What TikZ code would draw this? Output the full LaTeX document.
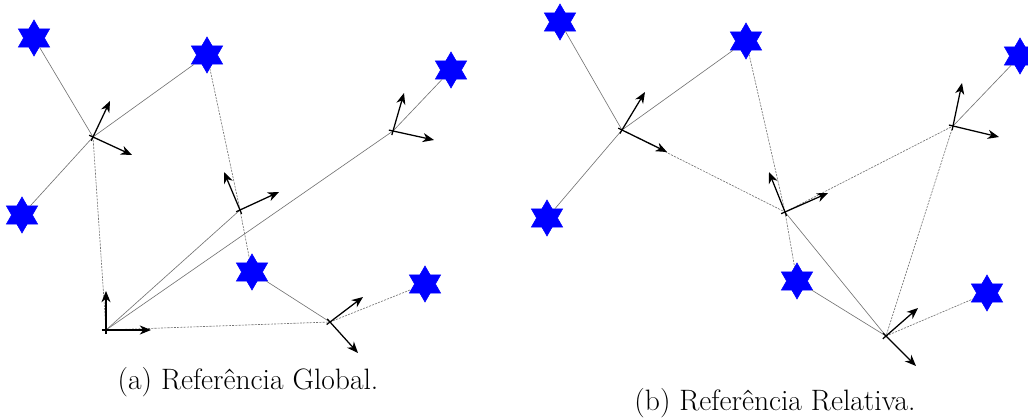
\documentclass[tikz,border=0pt]{standalone}
\usepackage{tikz}
\usetikzlibrary{shapes.geometric, arrows.meta}

\begin{document}
\begin{tikzpicture}[x=0.025cm, y=-0.025cm,
  landmark/.style={star, star points=6, star point ratio=1.73, fill=blue, draw=blue, inner sep=0pt, minimum size=0.9cm},
  link/.style={black!55, line width=0.45pt},
  dlink/.style={black!55, line width=0.45pt, dash pattern=on 1.5pt off 0.8pt},
  axis/.style={-{Stealth[length=8pt, width=6.5pt, inset=2.5pt]}, line width=0.9pt, shorten <=-3pt}
]
  \useasboundingbox (0,0) rectangle (1028,420);

  % (a) global frame
  \node[landmark] (s1) at (34,38) {};
  \node[landmark] (s2) at (207,55) {};
  \node[landmark] (s3) at (451,70) {};
  \node[landmark] (s4) at (22,215) {};
  \node[landmark] (s5) at (252,272) {};
  \node[landmark] (s6) at (425,284) {};

  \coordinate (p1) at (93,137);
  \coordinate (p2) at (240,210);
  \coordinate (p3) at (393,131);
  \coordinate (p4) at (106,330);
  \coordinate (p5) at (330,322);

  \draw[link] (s1) -- (p1);
  \draw[link] (s2) -- (p1);
  \draw[link] (s4) -- (p1);
  \draw[dlink] (p1) -- (p4);
  \draw[dlink] (s2) -- (p2);
  \draw[dlink] (p2) -- (s5);
  \draw[link] (p4) -- (p2);
  \draw[link] (p4) -- (p3);
  \draw[link] (p3) -- (s3);
  \draw[dlink] (p4) -- (p5);
  \draw[link] (p5) -- (s5);
  \draw[dlink] (p5) -- (s6);

  \coordinate (p1x) at (132,155); \coordinate (p1y) at (110,101);
  \coordinate (p2x) at (279,192); \coordinate (p2y) at (224,172);
  \coordinate (p3x) at (434,140); \coordinate (p3y) at (404,93);
  \coordinate (p4x) at (151,330); \coordinate (p4y) at (106,291);
  \coordinate (p5x) at (363,297); \coordinate (p5y) at (358,353);
  \foreach \p in {p1,p2,p3,p4,p5} {
    \draw[axis] (\p) -- (\p x);
    \draw[axis] (\p) -- (\p y);
  }

  \node[font=\fontsize{21}{25}\selectfont] (capa) at (248,382) {(a) Referência Global.};

  % (b) relative frame
  \node[landmark] (t1) at (560,22) {};
  \node[landmark] (t2) at (746,41) {};
  \node[landmark] (t3) at (1020,56) {};
  \node[landmark] (t4) at (547,218) {};
  \node[landmark] (t5) at (797,281) {};
  \node[landmark] (t6) at (987,293) {};

  \coordinate (q1) at (622,130);
  \coordinate (q2) at (785,212);
  \coordinate (q3) at (953,126);
  \coordinate (q4) at (886,336);

  \draw[link] (t1) -- (q1);
  \draw[link] (t2) -- (q1);
  \draw[link] (t4) -- (q1);
  \draw[dlink] (q1) -- (q2);
  \draw[dlink] (t2) -- (q2);
  \draw[dlink] (q2) -- (t5);
  \draw[dlink] (q2) -- (q3);
  \draw[link] (q2) -- (q4);
  \draw[link] (q3) -- (t3);
  \draw[dlink] (q3) -- (q4);
  \draw[link] (q4) -- (t5);
  \draw[dlink] (q4) -- (t6);

  \coordinate (q1x) at (667,152); \coordinate (q1y) at (645,92);
  \coordinate (q2x) at (828,193); \coordinate (q2y) at (769,172);
  \coordinate (q3x) at (999,137); \coordinate (q3y) at (962,83);
  \coordinate (q4x) at (918,308); \coordinate (q4y) at (916,366);
  \foreach \q in {q1,q2,q3,q4} {
    \draw[axis] (\q) -- (\q x);
    \draw[axis] (\q) -- (\q y);
  }

  \node[font=\fontsize{21}{25}\selectfont] (capb) at (775,403) {(b) Referência Relativa.};
\end{tikzpicture}
\end{document}
